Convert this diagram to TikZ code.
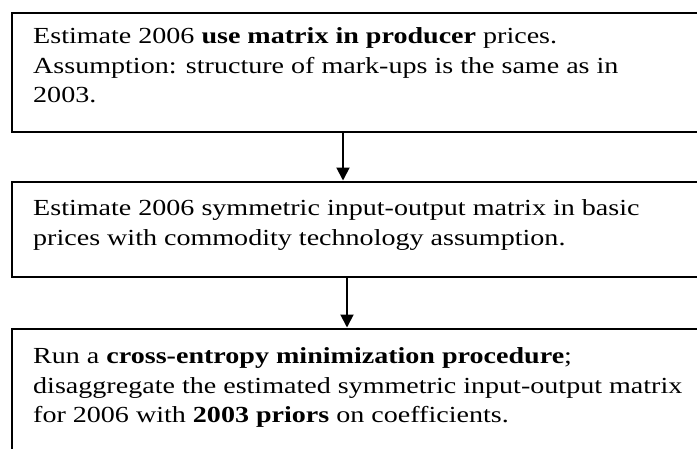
\documentclass[tikz,border=0pt]{standalone}
\usepackage{fontspec}
\setmainfont{Liberation Serif}[FakeStretch=1.22]
\usetikzlibrary{arrows.meta}
\tikzset{
  box/.style={draw=black, line width=1.6pt, anchor=north west, minimum width=720pt, inner sep=0pt},
  txt/.style={anchor=north west, align=left, inner sep=0pt, font=\fontsize{23}{29.5}\selectfont},
  arr/.style={draw=black, line width=1.9pt, -{Triangle[width=13pt,length=13pt]}, shorten >=0.5pt}
}
\begin{document}
\begin{tikzpicture}[x=1pt,y=-1pt]
\useasboundingbox (0,0) rectangle (697,448);
\node[box, minimum height=119pt] (b1) at (11,12) {};
\node[box, minimum height=95pt] (b2) at (11,181) {};
\node[box, minimum height=160pt] (b3) at (11,328) {};
\node[txt] (t1) at (33,27.8) {Estimate 2006 \textbf{use matrix in producer} prices.\\Assumption: structure of mark-ups is the same as in\\2003.};
\node[txt] (t2) at (33,199.8) {Estimate 2006 symmetric input-output matrix in basic\\prices with commodity technology assumption.};
\node[txt] (t3) at (33,347.8) {Run a \textbf{cross-entropy minimization procedure};\\disaggregate the estimated symmetric input-output matrix\\for 2006 with \textbf{2003 priors} on coefficients.};
\coordinate (a1) at (343,0);
\coordinate (a2) at (347,0);
\draw[arr] (b1.south -| a1) -- (b2.north -| a1);
\draw[arr] (b2.south -| a2) -- (b3.north -| a2);
\end{tikzpicture}
\end{document}
